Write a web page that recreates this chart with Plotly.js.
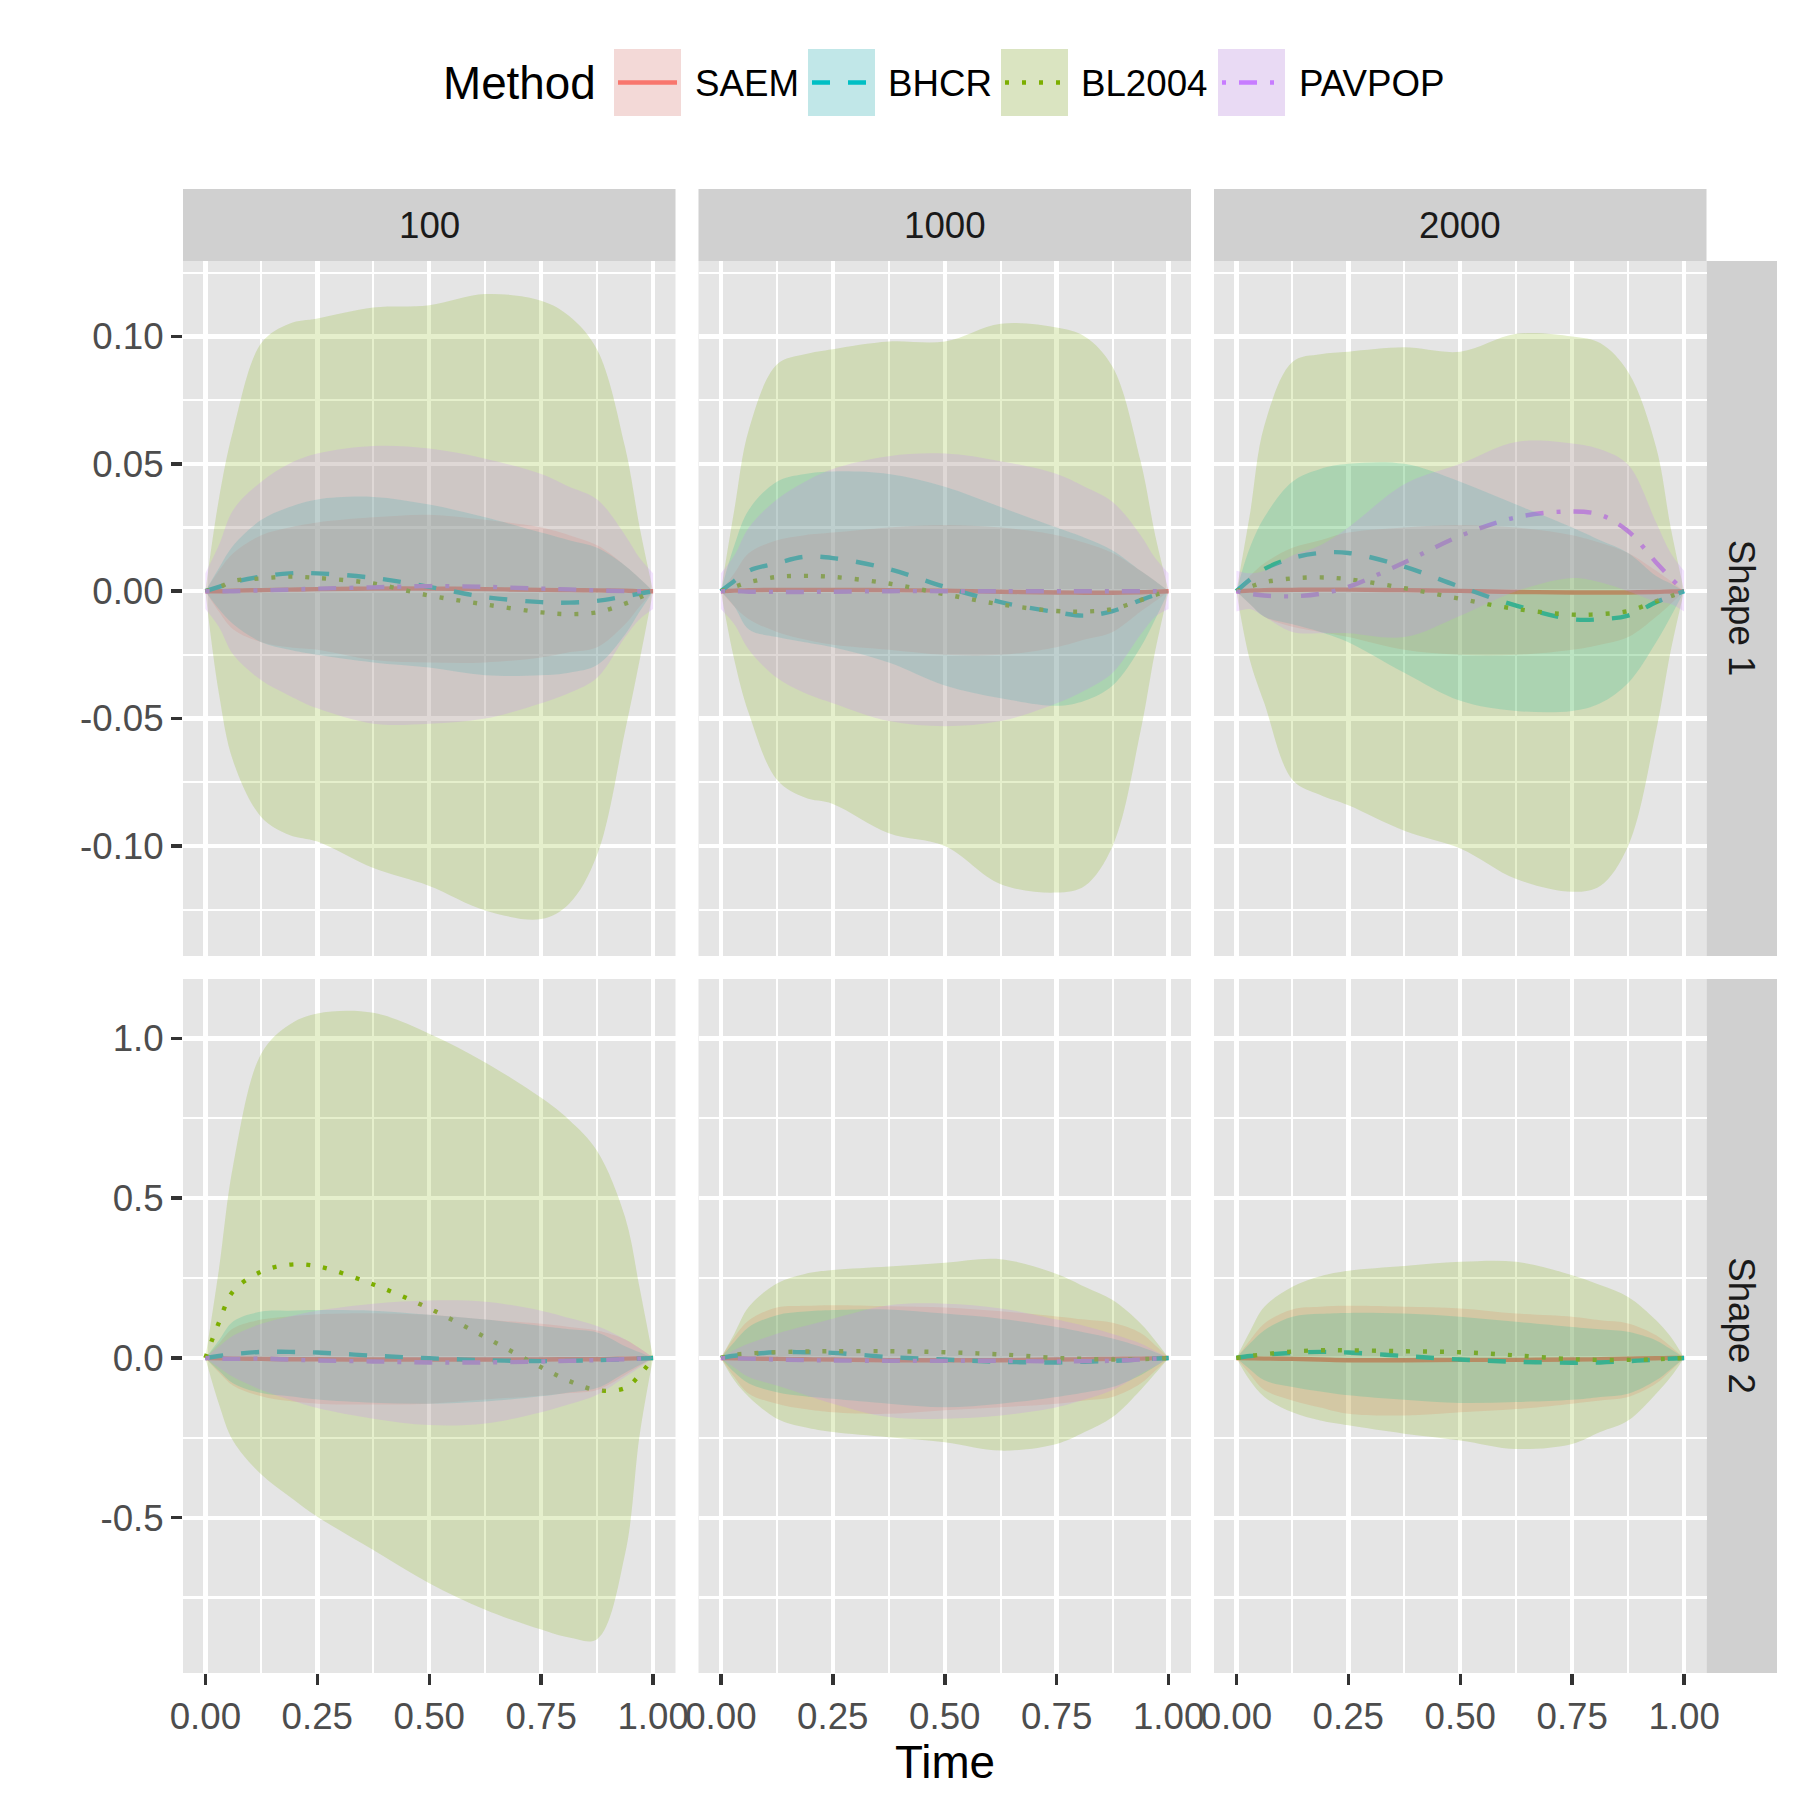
<!DOCTYPE html>
<html><head><meta charset="utf-8">
<script src="https://cdn.plot.ly/plotly-3.0.1.min.js"></script>
<style>html,body{margin:0;padding:0;background:#fff;}</style>
</head><body><div id="chart" style="width:1800px;height:1800px;"></div>
<script>
// ---------- categories / ticks ----------
const T = [0, 0.03, 0.0625, 0.125, 0.1875, 0.25, 0.375, 0.5, 0.625, 0.75, 0.8125, 0.875, 0.9375, 0.97, 1];
const methods = ['SAEM', 'BHCR', 'BL2004', 'PAVPOP'];
const sampleSizes = ['100', '1000', '2000'];
const shapeLabels = ['Shape 1', 'Shape 2'];
const xTickVals = [0, 0.25, 0.5, 0.75, 1];
const xTickText = ['0.00', '0.25', '0.50', '0.75', '1.00'];
const y1TickVals = [-0.10, -0.05, 0, 0.05, 0.10];
const y1TickText = ['-0.10', '-0.05', '0.00', '0.05', '0.10'];
const y2TickVals = [-0.5, 0, 0.5, 1.0];
const y2TickText = ['-0.5', '0.0', '0.5', '1.0'];

// ---------- Shape 1, n = 100 ----------
const s1_100_SAEM_mid = [0, 0, 0.0002, 0.0004, 0.0006, 0.0008, 0.001, 0.001, 0.0008, 0.0005, 0.0004, 0.0003, 0.0002, 0, 0];
const s1_100_SAEM_lo = [0, -0.008, -0.015, -0.020, -0.022, -0.023, -0.027, -0.028, -0.028, -0.026, -0.024, -0.022, -0.013, -0.006, 0];
const s1_100_SAEM_hi = [0, 0.008, 0.015, 0.022, 0.025, 0.027, 0.029, 0.030, 0.028, 0.025, 0.022, 0.018, 0.010, 0.005, 0];
const s1_100_BHCR_mid = [0, 0.0017, 0.0035, 0.0057, 0.007, 0.007, 0.0052, 0.0017, -0.0023, -0.0043, -0.0045, -0.0038, -0.002, -0.001, 0];
const s1_100_BHCR_lo = [0, -0.007, -0.013, -0.020, -0.023, -0.025, -0.028, -0.030, -0.033, -0.033, -0.032, -0.029, -0.017, -0.008, 0];
const s1_100_BHCR_hi = [0, 0.009, 0.018, 0.028, 0.033, 0.036, 0.037, 0.034, 0.029, 0.023, 0.020, 0.017, 0.010, 0.005, 0];
const s1_100_BL2004_mid = [0, 0.0015, 0.004, 0.005, 0.0057, 0.0052, 0.003, -0.0017, -0.0052, -0.0083, -0.009, -0.0083, -0.0049, -0.0025, 0];
const s1_100_BL2004_lo = [0, -0.040, -0.067, -0.0887, -0.0957, -0.0983, -0.1087, -0.1157, -0.1253, -0.1287, -0.1227, -0.1035, -0.0548, -0.027, 0];
const s1_100_BL2004_hi = [0, 0.036, 0.0635, 0.0974, 0.105, 0.107, 0.1113, 0.1122, 0.1166, 0.114, 0.108, 0.0948, 0.0565, 0.025, 0];
const s1_100_PAVPOP_mid = [0, 0, 0, 0.0003, 0.0006, 0.001, 0.0015, 0.002, 0.0017, 0.001, 0.0007, 0.0003, 0, 0, 0];
const s1_100_PAVPOP_lo = [-0.007, -0.014, -0.025, -0.035, -0.041, -0.046, -0.052, -0.052, -0.050, -0.044, -0.040, -0.034, -0.018, -0.011, -0.007];
const s1_100_PAVPOP_hi = [0.007, 0.018, 0.032, 0.043, 0.050, 0.054, 0.057, 0.056, 0.052, 0.046, 0.041, 0.036, 0.022, 0.013, 0.007];

// ---------- Shape 1, n = 1000 ----------
const s1_1000_SAEM_mid = [0, 0.0002, 0.0004, 0.0005, 0.0005, 0.0005, 0.0004, 0.0002, -0.0002, -0.0005, -0.0006, -0.0006, -0.0004, -0.0002, 0];
const s1_1000_SAEM_lo = [0, -0.006, -0.011, -0.016, -0.019, -0.021, -0.023, -0.025, -0.025, -0.022, -0.019, -0.016, -0.008, -0.004, 0];
const s1_1000_SAEM_hi = [0, 0.007, 0.015, 0.020, 0.022, 0.023, 0.025, 0.026, 0.025, 0.022, 0.019, 0.015, 0.008, 0.004, 0];
const s1_1000_BHCR_mid = [0, 0.004, 0.008, 0.011, 0.0135, 0.013, 0.0087, 0.0017, -0.0043, -0.0083, -0.0096, -0.0078, -0.0035, -0.0015, 0];
const s1_1000_BHCR_lo = [0, -0.006, -0.015, -0.018, -0.020, -0.022, -0.028, -0.037, -0.042, -0.045, -0.043, -0.037, -0.022, -0.011, 0];
const s1_1000_BHCR_hi = [0, 0.018, 0.032, 0.043, 0.046, 0.047, 0.046, 0.041, 0.033, 0.025, 0.021, 0.016, 0.008, 0.004, 0];
const s1_1000_BL2004_mid = [0, 0.0017, 0.0035, 0.0056, 0.006, 0.0056, 0.003, -0.0012, -0.0052, -0.0078, -0.008, -0.007, -0.0035, -0.0015, 0];
const s1_1000_BL2004_lo = [0, -0.027, -0.048, -0.074, -0.081, -0.0835, -0.095, -0.100, -0.115, -0.1183, -0.1157, -0.100, -0.0548, -0.0235, 0];
const s1_1000_BL2004_hi = [0, 0.032, 0.0635, 0.089, 0.093, 0.095, 0.098, 0.098, 0.105, 0.1035, 0.100, 0.088, 0.051, 0.022, 0];
const s1_1000_PAVPOP_mid = [0, 0, -0.0002, -0.0003, -0.0003, -0.0002, 0, 0, 0, 0, 0, 0, 0, 0, 0];
const s1_1000_PAVPOP_lo = [-0.007, -0.013, -0.023, -0.034, -0.040, -0.044, -0.051, -0.053, -0.051, -0.044, -0.039, -0.032, -0.017, -0.010, -0.007];
const s1_1000_PAVPOP_hi = [0.007, 0.014, 0.025, 0.036, 0.043, 0.048, 0.053, 0.054, 0.051, 0.046, 0.041, 0.035, 0.022, 0.013, 0.007];

// ---------- Shape 1, n = 2000 ----------
const s1_2000_SAEM_mid = [0, 0.0002, 0.0004, 0.0005, 0.0006, 0.0006, 0.0004, 0.0001, -0.0003, -0.0005, -0.0005, -0.0005, -0.0003, -0.0001, 0];
const s1_2000_SAEM_lo = [0, -0.005, -0.010, -0.014, -0.016, -0.018, -0.023, -0.025, -0.025, -0.023, -0.021, -0.018, -0.010, -0.005, 0];
const s1_2000_SAEM_hi = [0, 0.006, 0.011, 0.017, 0.020, 0.023, 0.025, 0.026, 0.025, 0.022, 0.019, 0.015, 0.008, 0.004, 0];
const s1_2000_BHCR_mid = [0, 0.0045, 0.0087, 0.013, 0.015, 0.015, 0.0096, 0.0017, -0.0057, -0.011, -0.011, -0.0096, -0.0043, -0.002, 0];
const s1_2000_BHCR_lo = [0, -0.005, -0.010, -0.013, -0.016, -0.020, -0.032, -0.043, -0.047, -0.047, -0.044, -0.036, -0.020, -0.010, 0];
const s1_2000_BHCR_hi = [0, 0.017, 0.029, 0.043, 0.048, 0.050, 0.050, 0.043, 0.034, 0.025, 0.020, 0.015, 0.006, 0.003, 0];
const s1_2000_BL2004_mid = [0, 0.0017, 0.0035, 0.005, 0.0054, 0.0047, 0.0012, -0.003, -0.007, -0.0092, -0.009, -0.0078, -0.004, -0.002, 0];
const s1_2000_BL2004_lo = [0, -0.027, -0.044, -0.074, -0.080, -0.084, -0.094, -0.101, -0.113, -0.118, -0.1157, -0.100, -0.0548, -0.0235, 0];
const s1_2000_BL2004_hi = [0, 0.030, 0.065, 0.090, 0.093, 0.094, 0.0957, 0.094, 0.101, 0.100, 0.0974, 0.086, 0.0565, 0.025, 0];
const s1_2000_PAVPOP_mid = [0, -0.001, -0.0017, -0.002, -0.001, 0.0017, 0.0113, 0.0217, 0.029, 0.0313, 0.030, 0.0235, 0.0113, 0.0052, 0];
const s1_2000_PAVPOP_lo = [-0.008, -0.007, -0.010, -0.016, -0.0165, -0.0165, -0.018, -0.0096, 0, 0.0052, 0.0035, 0, -0.004, -0.005, -0.008];
const s1_2000_PAVPOP_hi = [0.008, 0.007, 0.008, 0.014, 0.018, 0.025, 0.042, 0.050, 0.0586, 0.058, 0.0557, 0.0496, 0.027, 0.015, 0.008];

// ---------- Shape 2, n = 100 ----------
const s2_100_SAEM_mid = [0, -0.001, -0.002, -0.003, -0.004, -0.004, -0.005, -0.005, -0.005, -0.005, -0.004, -0.004, -0.002, -0.001, 0];
const s2_100_SAEM_lo = [0, -0.045, -0.087, -0.12, -0.135, -0.143, -0.146, -0.143, -0.13, -0.118, -0.11, -0.10, -0.053, -0.025, 0];
const s2_100_SAEM_hi = [0, 0.045, 0.093, 0.12, 0.13, 0.137, 0.14, 0.135, 0.12, 0.107, 0.097, 0.086, 0.058, 0.03, 0];
const s2_100_BHCR_mid = [0, 0.006, 0.012, 0.019, 0.019, 0.017, 0.007, -0.001, -0.007, -0.01, -0.009, -0.007, -0.004, -0.002, 0];
const s2_100_BHCR_lo = [0, -0.04, -0.08, -0.11, -0.12, -0.13, -0.14, -0.143, -0.136, -0.12, -0.108, -0.094, -0.046, -0.022, 0];
const s2_100_BHCR_hi = [0, 0.055, 0.115, 0.145, 0.148, 0.15, 0.148, 0.135, 0.12, 0.10, 0.09, 0.08, 0.037, 0.018, 0];
const s2_100_BL2004_mid = [0, 0.11, 0.21, 0.27, 0.292, 0.287, 0.23, 0.155, 0.065, -0.029, -0.072, -0.101, -0.094, -0.053, 0];
const s2_100_BL2004_lo = [0, -0.143, -0.261, -0.365, -0.434, -0.497, -0.601, -0.705, -0.788, -0.85, -0.875, -0.88, -0.613, -0.24, 0];
const s2_100_BL2004_hi = [0, 0.275, 0.607, 0.953, 1.043, 1.078, 1.08, 1.015, 0.925, 0.814, 0.745, 0.648, 0.44, 0.218, 0];
const s2_100_PAVPOP_mid = [0, -0.002, -0.003, -0.002, -0.005, -0.008, -0.011, -0.014, -0.014, -0.011, -0.009, -0.007, -0.004, -0.002, 0];
const s2_100_PAVPOP_lo = [0, -0.03, -0.06, -0.10, -0.13, -0.157, -0.19, -0.21, -0.205, -0.17, -0.145, -0.115, -0.06, -0.03, 0];
const s2_100_PAVPOP_hi = [0, 0.035, 0.07, 0.107, 0.13, 0.148, 0.17, 0.18, 0.176, 0.148, 0.125, 0.10, 0.058, 0.03, 0];

// ---------- Shape 2, n = 1000 ----------
const s2_1000_SAEM_mid = [0, -0.001, -0.002, -0.003, -0.004, -0.005, -0.007, -0.007, -0.007, -0.005, -0.004, -0.003, -0.002, -0.001, 0];
const s2_1000_SAEM_lo = [0, -0.06, -0.112, -0.143, -0.16, -0.17, -0.175, -0.164, -0.154, -0.143, -0.133, -0.122, -0.08, -0.04, 0];
const s2_1000_SAEM_hi = [0, 0.065, 0.118, 0.158, 0.163, 0.165, 0.162, 0.158, 0.146, 0.13, 0.12, 0.11, 0.078, 0.04, 0];
const s2_1000_BHCR_mid = [0, 0.007, 0.011, 0.018, 0.018, 0.016, 0.003, -0.005, -0.012, -0.014, -0.012, -0.009, -0.005, -0.002, 0];
const s2_1000_BHCR_lo = [0, -0.045, -0.08, -0.107, -0.12, -0.128, -0.143, -0.154, -0.143, -0.122, -0.108, -0.091, -0.054, -0.027, 0];
const s2_1000_BHCR_hi = [0, 0.05, 0.097, 0.134, 0.145, 0.15, 0.152, 0.139, 0.123, 0.097, 0.08, 0.061, 0.035, 0.018, 0];
const s2_1000_BL2004_mid = [0, 0.01, 0.014, 0.018, 0.02, 0.021, 0.021, 0.018, 0.011, 0, -0.003, -0.005, -0.004, -0.002, 0];
const s2_1000_BL2004_lo = [0, -0.07, -0.122, -0.19, -0.217, -0.232, -0.248, -0.264, -0.29, -0.269, -0.232, -0.185, -0.10, -0.049, 0];
const s2_1000_BL2004_hi = [0, 0.076, 0.16, 0.233, 0.263, 0.275, 0.286, 0.298, 0.309, 0.263, 0.223, 0.181, 0.108, 0.055, 0];
const s2_1000_PAVPOP_mid = [0, -0.001, -0.002, -0.005, -0.007, -0.008, -0.009, -0.009, -0.009, -0.011, -0.01, -0.009, -0.005, -0.002, 0];
const s2_1000_PAVPOP_lo = [0, -0.03, -0.06, -0.086, -0.115, -0.143, -0.185, -0.19, -0.18, -0.154, -0.13, -0.10, -0.05, -0.025, 0];
const s2_1000_PAVPOP_hi = [0, 0.025, 0.045, 0.076, 0.1, 0.123, 0.165, 0.17, 0.155, 0.12, 0.1, 0.075, 0.045, 0.022, 0];

// ---------- Shape 2, n = 2000 (no PAVPOP) ----------
const s2_2000_SAEM_mid = [0, -0.001, -0.002, -0.003, -0.005, -0.007, -0.007, -0.006, -0.006, -0.005, -0.004, -0.002, -0.001, 0, 0];
const s2_2000_SAEM_lo = [0, -0.05, -0.10, -0.133, -0.155, -0.175, -0.18, -0.17, -0.16, -0.143, -0.133, -0.122, -0.08, -0.04, 0];
const s2_2000_SAEM_hi = [0, 0.055, 0.108, 0.152, 0.16, 0.163, 0.16, 0.155, 0.139, 0.129, 0.118, 0.108, 0.071, 0.036, 0];
const s2_2000_BHCR_mid = [0, 0.006, 0.01, 0.016, 0.019, 0.017, 0.006, -0.005, -0.012, -0.015, -0.014, -0.01, -0.005, -0.002, 0];
const s2_2000_BHCR_lo = [0, -0.035, -0.07, -0.091, -0.105, -0.117, -0.131, -0.141, -0.138, -0.131, -0.122, -0.112, -0.07, -0.035, 0];
const s2_2000_BHCR_hi = [0, 0.045, 0.087, 0.129, 0.138, 0.141, 0.139, 0.129, 0.113, 0.097, 0.09, 0.082, 0.055, 0.028, 0];
const s2_2000_BL2004_mid = [0, 0.006, 0.0115, 0.02, 0.024, 0.024, 0.021, 0.018, 0.008, -0.004, -0.006, -0.006, -0.004, -0.002, 0];
const s2_2000_BL2004_lo = [0, -0.07, -0.122, -0.17, -0.196, -0.211, -0.237, -0.258, -0.285, -0.269, -0.232, -0.196, -0.112, -0.06, 0];
const s2_2000_BL2004_hi = [0, 0.082, 0.16, 0.223, 0.256, 0.273, 0.288, 0.301, 0.301, 0.259, 0.228, 0.191, 0.118, 0.066, 0];

// ---------- lookup built from the named arrays ----------
const series = {
  s1_100: {
    SAEM: [s1_100_SAEM_mid, s1_100_SAEM_lo, s1_100_SAEM_hi],
    BHCR: [s1_100_BHCR_mid, s1_100_BHCR_lo, s1_100_BHCR_hi],
    BL2004: [s1_100_BL2004_mid, s1_100_BL2004_lo, s1_100_BL2004_hi],
    PAVPOP: [s1_100_PAVPOP_mid, s1_100_PAVPOP_lo, s1_100_PAVPOP_hi]},
  s1_1000: {
    SAEM: [s1_1000_SAEM_mid, s1_1000_SAEM_lo, s1_1000_SAEM_hi],
    BHCR: [s1_1000_BHCR_mid, s1_1000_BHCR_lo, s1_1000_BHCR_hi],
    BL2004: [s1_1000_BL2004_mid, s1_1000_BL2004_lo, s1_1000_BL2004_hi],
    PAVPOP: [s1_1000_PAVPOP_mid, s1_1000_PAVPOP_lo, s1_1000_PAVPOP_hi]},
  s1_2000: {
    SAEM: [s1_2000_SAEM_mid, s1_2000_SAEM_lo, s1_2000_SAEM_hi],
    BHCR: [s1_2000_BHCR_mid, s1_2000_BHCR_lo, s1_2000_BHCR_hi],
    BL2004: [s1_2000_BL2004_mid, s1_2000_BL2004_lo, s1_2000_BL2004_hi],
    PAVPOP: [s1_2000_PAVPOP_mid, s1_2000_PAVPOP_lo, s1_2000_PAVPOP_hi]},
  s2_100: {
    SAEM: [s2_100_SAEM_mid, s2_100_SAEM_lo, s2_100_SAEM_hi],
    BHCR: [s2_100_BHCR_mid, s2_100_BHCR_lo, s2_100_BHCR_hi],
    BL2004: [s2_100_BL2004_mid, s2_100_BL2004_lo, s2_100_BL2004_hi],
    PAVPOP: [s2_100_PAVPOP_mid, s2_100_PAVPOP_lo, s2_100_PAVPOP_hi]},
  s2_1000: {
    SAEM: [s2_1000_SAEM_mid, s2_1000_SAEM_lo, s2_1000_SAEM_hi],
    BHCR: [s2_1000_BHCR_mid, s2_1000_BHCR_lo, s2_1000_BHCR_hi],
    BL2004: [s2_1000_BL2004_mid, s2_1000_BL2004_lo, s2_1000_BL2004_hi],
    PAVPOP: [s2_1000_PAVPOP_mid, s2_1000_PAVPOP_lo, s2_1000_PAVPOP_hi]},
  s2_2000: {
    SAEM: [s2_2000_SAEM_mid, s2_2000_SAEM_lo, s2_2000_SAEM_hi],
    BHCR: [s2_2000_BHCR_mid, s2_2000_BHCR_lo, s2_2000_BHCR_hi],
    BL2004: [s2_2000_BL2004_mid, s2_2000_BL2004_lo, s2_2000_BL2004_hi]}
};

// ---------- styles ----------
const FONT = 'Liberation Sans, Arial, Helvetica, sans-serif';
const colors = {SAEM: '#F8766D', BHCR: '#00BFC4', BL2004: '#7CAE00', PAVPOP: '#C77CFF'};
const fills = {SAEM: 'rgba(248,118,109,0.2)', BHCR: 'rgba(0,191,196,0.2)', BL2004: 'rgba(124,174,0,0.2)', PAVPOP: 'rgba(199,124,255,0.2)'};
const dashes = {SAEM: 'solid', BHCR: '18px,18px', BL2004: '4px,13px', PAVPOP: '4px,13px,18px,13px'};
const LW = 4.4;

const S = 1800;
const colPx = [[183, 675.5], [698.5, 1191], [1214, 1706.5]];
const rowPx = [[261, 956], [979, 1673]];
const rowRanges = [[-0.1432, 0.1296], [-0.986, 1.186]];
const px = v => v / S;
const py = v => 1 - v / S;

const traces = [];
const layout = {
  width: 1800, height: 1800, autosize: false,
  margin: {l: 0, r: 0, t: 0, b: 0, pad: 0},
  paper_bgcolor: '#FFFFFF', plot_bgcolor: '#E5E5E5',
  showlegend: false, hovermode: false,
  font: {family: FONT, color: '#000000'},
  shapes: [], annotations: []
};

for (let r = 0; r < 2; r++) {
  for (let c = 0; c < 3; c++) {
    const k = r * 3 + c + 1;
    const xn = 'x' + (k === 1 ? '' : k), yn = 'y' + (k === 1 ? '' : k);
    const xk = 'xaxis' + (k === 1 ? '' : k), yk = 'yaxis' + (k === 1 ? '' : k);
    const bottom = r === 1, left = c === 0;
    layout[xk] = {
      domain: [px(colPx[c][0]), px(colPx[c][1])], anchor: yn,
      range: [-0.05, 1.05], tickmode: 'array', tickvals: xTickVals, ticktext: xTickText,
      showticklabels: bottom, ticks: bottom ? 'outside' : '', ticklen: 11, tickwidth: 3.5, tickcolor: '#333333',
      tickfont: {family: FONT, size: 36.7, color: '#4D4D4D'},
      showgrid: true, gridcolor: '#FFFFFF', gridwidth: 4.4, zeroline: false, showline: false, fixedrange: true,
      minor: {tickmode: 'array', tickvals: [0.125, 0.375, 0.625, 0.875], showgrid: true, gridcolor: '#FFFFFF', gridwidth: 2.2, ticks: ''}
    };
    layout[yk] = {
      domain: [py(rowPx[r][1]), py(rowPx[r][0])], anchor: xn,
      range: rowRanges[r], tickmode: 'array',
      tickvals: r === 0 ? y1TickVals : y2TickVals, ticktext: r === 0 ? y1TickText : y2TickText,
      showticklabels: left, ticks: left ? 'outside' : '', ticklen: 11, tickwidth: 3.5, tickcolor: '#333333',
      tickfont: {family: FONT, size: 36.7, color: '#4D4D4D'},
      showgrid: true, gridcolor: '#FFFFFF', gridwidth: 4.4, zeroline: false, showline: false, fixedrange: true,
      minor: {tickmode: 'array', tickvals: r === 0 ? [-0.125, -0.075, -0.025, 0.025, 0.075, 0.125] : [-0.75, -0.25, 0.25, 0.75],
              showgrid: true, gridcolor: '#FFFFFF', gridwidth: 2.2, ticks: ''}
    };
    const key = 's' + (r + 1) + '_' + sampleSizes[c];
    const panel = series[key];
    // mean curves first (drawn beneath the ribbons)
    methods.forEach(m => {
      if (!panel[m]) return;
      traces.push({type: 'scatter', mode: 'lines', x: T, y: panel[m][0], xaxis: xn, yaxis: yn,
        name: m, line: {color: colors[m], width: LW, dash: dashes[m], shape: 'spline', smoothing: 1}, hoverinfo: 'skip'});
    });
    // ribbons
    methods.forEach(m => {
      if (!panel[m]) return;
      traces.push({type: 'scatter', mode: 'lines', x: T, y: panel[m][1], xaxis: xn, yaxis: yn,
        line: {width: 0, shape: 'spline', smoothing: 1}, hoverinfo: 'skip', name: m + ' lower'});
      traces.push({type: 'scatter', mode: 'lines', x: T, y: panel[m][2], xaxis: xn, yaxis: yn,
        fill: 'tonexty', fillcolor: fills[m],
        line: {width: 0, shape: 'spline', smoothing: 1}, hoverinfo: 'skip', name: m + ' upper'});
    });
  }
}

// facet strips (top)
for (let c = 0; c < 3; c++) {
  layout.shapes.push({type: 'rect', xref: 'paper', yref: 'paper', layer: 'below',
    x0: px(colPx[c][0]), x1: px(colPx[c][1]), y0: py(261), y1: py(189),
    fillcolor: '#D0D0D0', line: {width: 0}});
  layout.annotations.push({xref: 'paper', yref: 'paper', x: px((colPx[c][0] + colPx[c][1]) / 2), y: py(225),
    text: sampleSizes[c], showarrow: false, xanchor: 'center', yanchor: 'middle',
    font: {family: FONT, size: 36.7, color: '#1A1A1A'}});
}
// facet strips (right)
for (let r = 0; r < 2; r++) {
  layout.shapes.push({type: 'rect', xref: 'paper', yref: 'paper', layer: 'below',
    x0: px(1706.5), x1: px(1777), y0: py(rowPx[r][1]), y1: py(rowPx[r][0]),
    fillcolor: '#D0D0D0', line: {width: 0}});
  layout.annotations.push({xref: 'paper', yref: 'paper', x: px((1706.5 + 1777) / 2), y: py((rowPx[r][0] + rowPx[r][1]) / 2),
    text: shapeLabels[r], showarrow: false, textangle: 90, xanchor: 'center', yanchor: 'middle',
    font: {family: FONT, size: 36.7, color: '#1A1A1A'}});
}

// axis title
layout.annotations.push({xref: 'paper', yref: 'paper', x: px((183 + 1706.5) / 2), y: py(1762),
  text: 'Time', showarrow: false, xanchor: 'center', yanchor: 'middle',
  font: {family: FONT, size: 45.8, color: '#000000'}});

// legend (drawn by hand, ggplot style)
layout.annotations.push({xref: 'paper', yref: 'paper', x: px(441), y: py(84),
  text: 'Method', showarrow: false, xanchor: 'left', yanchor: 'middle',
  font: {family: FONT, size: 45.8, color: '#000000'}});
const keyLeft = [614, 808, 1001, 1218];
const labelLeft = [693, 886, 1079, 1297];
methods.forEach((m, i) => {
  const x0 = keyLeft[i], x1 = x0 + 67;
  layout.shapes.push({type: 'rect', xref: 'paper', yref: 'paper', x0: px(x0), x1: px(x1), y0: py(116), y1: py(49),
    fillcolor: '#F2F2F2', line: {width: 0}});
  layout.shapes.push({type: 'rect', xref: 'paper', yref: 'paper', x0: px(x0), x1: px(x1), y0: py(116), y1: py(49),
    fillcolor: fills[m], line: {width: 0}});
  layout.shapes.push({type: 'line', xref: 'paper', yref: 'paper', x0: px(x0 + 4), x1: px(x1 - 4), y0: py(82.5), y1: py(82.5),
    line: {color: colors[m], width: LW, dash: dashes[m]}});
  layout.annotations.push({xref: 'paper', yref: 'paper', x: px(labelLeft[i]), y: py(84),
    text: m, showarrow: false, xanchor: 'left', yanchor: 'middle',
    font: {family: FONT, size: 36.7, color: '#000000'}});
});

Plotly.newPlot('chart', traces, layout, {staticPlot: true, displayModeBar: false});
</script>
</body></html>
